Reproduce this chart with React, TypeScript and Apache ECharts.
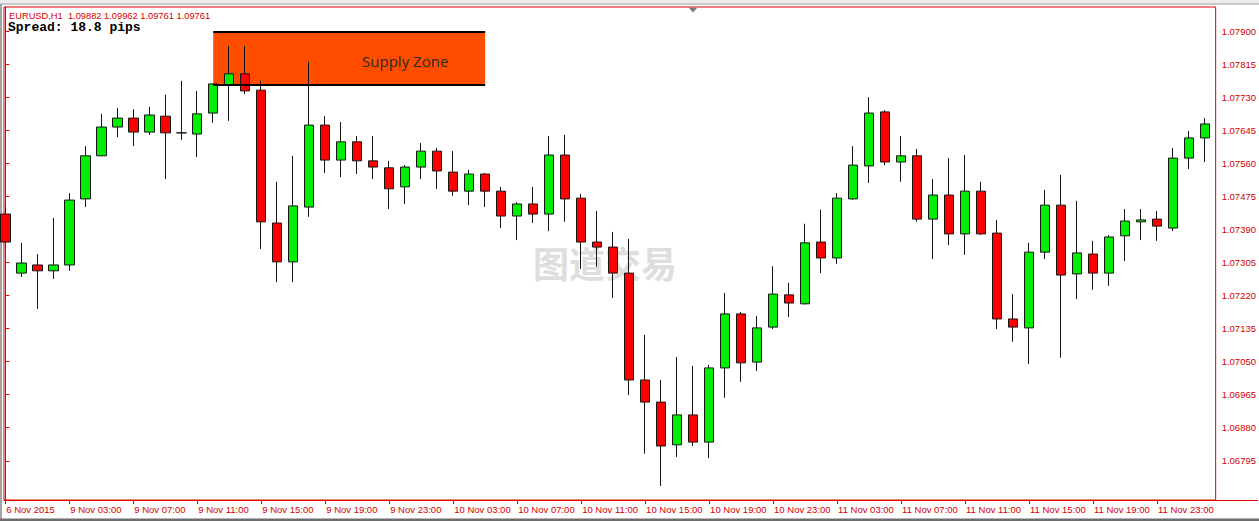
import React, { useEffect, useRef } from "react";
import * as echarts from "echarts";

// ---- data (EURUSD H1) ----
const opens = [
  1.0743, 1.07278, 1.07299, 1.07284, 1.07299, 1.07469, 1.0758, 1.07654, 1.07677, 1.07641,
  1.07682, 1.07639, 1.07636, 1.0769, 1.07762, 1.07791, 1.07749, 1.07407, 1.07307, 1.07448,
  1.07659, 1.07569, 1.07616, 1.07567, 1.07549, 1.075, 1.07551, 1.07592, 1.07538, 1.07489,
  1.07533, 1.07489, 1.07425, 1.07456, 1.0743, 1.07582, 1.07471, 1.07358, 1.07345, 1.07278,
  1.07003, 1.06946, 1.06836, 1.06913, 1.06843, 1.07034, 1.07173, 1.07049, 1.07139, 1.07222,
  1.07199, 1.07358, 1.07317, 1.07469, 1.07554, 1.07693, 1.07564, 1.0758, 1.07417, 1.07479,
  1.07379, 1.07489, 1.07381, 1.0716, 1.07137, 1.07332, 1.07453, 1.07276, 1.07327, 1.07278,
  1.07374, 1.0741, 1.07417, 1.07394, 1.07574, 1.07626,
];
const closes = [
  1.07358, 1.07304, 1.07284, 1.07299, 1.07466, 1.0758, 1.07654, 1.07677, 1.07641, 1.07685,
  1.07639, 1.07639, 1.07688, 1.07765, 1.07791, 1.07747, 1.0741, 1.07307, 1.07451, 1.07659,
  1.07569, 1.07616, 1.07567, 1.07551, 1.07495, 1.07551, 1.07592, 1.07541, 1.07489, 1.07533,
  1.07489, 1.07425, 1.07456, 1.0743, 1.07582, 1.07469, 1.07358, 1.07345, 1.07278, 1.07003,
  1.06946, 1.06833, 1.06913, 1.06843, 1.07034, 1.07173, 1.07047, 1.07137, 1.07224, 1.07201,
  1.07356, 1.07317, 1.07471, 1.07556, 1.0769, 1.07564, 1.0758, 1.07417, 1.07479, 1.07379,
  1.07489, 1.07379, 1.0716, 1.07139, 1.07332, 1.07453, 1.07273, 1.0733, 1.07278, 1.07371,
  1.07412, 1.07415, 1.07399, 1.07574, 1.07626, 1.07662,
];
const highs = [
  1.07448, 1.07356, 1.07327, 1.0742, 1.07484, 1.07605, 1.07688, 1.07703, 1.077, 1.07706,
  1.07737, 1.07773, 1.07747, 1.07766, 1.07863, 1.07863, 1.07773, 1.07513, 1.0758, 1.07822,
  1.07682, 1.07667, 1.07631, 1.07631, 1.07567, 1.07556, 1.07613, 1.076, 1.07592, 1.07544,
  1.07536, 1.075, 1.07461, 1.075, 1.07631, 1.07634, 1.07482, 1.07438, 1.07384, 1.07366,
  1.07119, 1.07003, 1.07062, 1.07039, 1.07042, 1.07227, 1.07178, 1.07168, 1.07296, 1.07253,
  1.07405, 1.07441, 1.07484, 1.07605, 1.07731, 1.07698, 1.07631, 1.07598, 1.0752, 1.07574,
  1.07582, 1.07513, 1.07415, 1.07224, 1.07356, 1.07492, 1.07531, 1.07464, 1.07361, 1.07376,
  1.07443, 1.07443, 1.07438, 1.076, 1.07644, 1.07677,
];
const lows = [
  1.07356, 1.07268, 1.07186, 1.07263, 1.07284, 1.07448, 1.07579, 1.07628, 1.07605, 1.07634,
  1.0752, 1.07621, 1.07577, 1.07665, 1.0767, 1.07739, 1.0734, 1.07255, 1.07255, 1.07423,
  1.07536, 1.07525, 1.07533, 1.0752, 1.07443, 1.07456, 1.0752, 1.07495, 1.07477, 1.07453,
  1.07448, 1.07394, 1.07363, 1.07407, 1.07386, 1.0741, 1.07289, 1.07294, 1.07214, 1.06964,
  1.06813, 1.0673, 1.06805, 1.06833, 1.06802, 1.06957, 1.06998, 1.07026, 1.07134, 1.07165,
  1.07197, 1.07278, 1.07302, 1.07467, 1.0751, 1.07556, 1.07513, 1.0741, 1.07314, 1.0735,
  1.07325, 1.07376, 1.07134, 1.07101, 1.07044, 1.07314, 1.0706, 1.07211, 1.07235, 1.07245,
  1.07309, 1.07363, 1.07361, 1.07386, 1.07546, 1.07564,
];

const xTickIndex = [0, 4, 8, 12, 16, 20, 24, 28, 32, 36, 40, 44, 48, 52, 56, 60, 64, 68, 72];
const xTickLabels = [
  "6 Nov 2015", "9 Nov 03:00", "9 Nov 07:00", "9 Nov 11:00", "9 Nov 15:00", "9 Nov 19:00",
  "9 Nov 23:00", "10 Nov 03:00", "10 Nov 07:00", "10 Nov 11:00", "10 Nov 15:00", "10 Nov 19:00",
  "10 Nov 23:00", "11 Nov 03:00", "11 Nov 07:00", "11 Nov 11:00", "11 Nov 15:00", "11 Nov 19:00",
  "11 Nov 23:00",
];
const yTicks = [
  1.06795, 1.0688, 1.06965, 1.0705, 1.07135, 1.0722, 1.07305, 1.0739, 1.07475, 1.0756,
  1.07645, 1.0773, 1.07815, 1.079,
];
const yMin = 1.06694;
const yMax = 1.07963;

const zoneStart = 13;
const zoneEnd = 30;
const zoneTop = 1.079;
const zoneBottom = 1.07763;

const headerText = "EURUSD,H1  1.09882 1.09962 1.09761 1.09761";
const spreadText = "Spread: 18.8 pips";
const zoneText = "Supply Zone";
const watermark = "图道交易";

const RED = "#e00000";
const LABEL_RED = "#d40000";
const FONT = "Liberation Sans";

export default function App() {
  const ref = useRef<HTMLDivElement>(null);
  useEffect(() => {
    document.body.style.margin = "0";
    const chart = echarts.init(ref.current!, null, { renderer: "svg" });
    const data = opens.map((o, i) => [i, o, closes[i], lows[i], highs[i]]);
    chart.setOption({
      animation: false,
      backgroundColor: "#ffffff",
      grid: {
        left: 4,
        right: 43,
        top: 7,
        bottom: 21,
        show: true,
        borderColor: RED,
        borderWidth: 1,
        backgroundColor: "#ffffff",
      },
      xAxis: {
        type: "value",
        min: -0.08125,
        max: 75.66875,
        axisLine: { show: true, onZero: false, lineStyle: { color: RED, width: 1 } },
        axisTick: { show: true, length: 4, customValues: xTickIndex, lineStyle: { color: RED } },
        axisLabel: {
          customValues: xTickIndex,
          formatter: (v: number) => xTickLabels[xTickIndex.indexOf(Math.round(v))] ?? "",
          color: LABEL_RED,
          fontFamily: FONT,
          fontSize: 9.5,
          align: "left",
          margin: 4,
          padding: [0, 0, 0, 1],
        },
        splitLine: { show: false },
      },
      yAxis: {
        type: "value",
        position: "right",
        min: yMin,
        max: yMax,
        axisLine: { show: true, lineStyle: { color: RED, width: 1 } },
        axisTick: { show: true, length: 4, customValues: yTicks, lineStyle: { color: RED } },
        axisLabel: {
          customValues: yTicks,
          formatter: (v: number) => v.toFixed(5),
          color: LABEL_RED,
          fontFamily: FONT,
          fontSize: 9.5,
          margin: 6,
        },
        splitLine: { show: false },
      },
      series: [
        {
          type: "candlestick",
          data,
          encode: { x: 0, y: [1, 2, 3, 4] },
          barWidth: 10,
          z: 3,
          itemStyle: {
            color: "#00f000",
            color0: "#ff0000",
            borderColor: "#151515",
            borderColor0: "#151515",
            borderWidth: 1,
          },
          markArea: {
            silent: true,
            itemStyle: { color: "#ff4d00", opacity: 1 },
            label: {
              show: true,
              position: "inside",
              offset: [56, 3],
              color: "#2a2a2a",
              fontFamily: "Open Sans",
              fontSize: 15,
            },
            data: [[{ name: zoneText, coord: [zoneStart, zoneTop] }, { coord: [zoneEnd, zoneBottom] }]],
          },
          markLine: {
            silent: true,
            symbol: ["none", "none"],
            label: { show: false },
            lineStyle: { color: "#000000", width: 2, type: "solid" },
            data: [
              [{ coord: [zoneStart, zoneTop] }, { coord: [zoneEnd, zoneTop] }],
              [{ coord: [zoneStart, zoneBottom] }, { coord: [zoneEnd, zoneBottom] }],
            ],
          },
        },
      ],
      graphic: [
        { type: "rect", z: 0, shape: { x: 0, y: 0, width: 1259, height: 3.5 }, style: { fill: "#ececec" } },
        { type: "line", z: 0, shape: { x1: 0, y1: 4, x2: 1259, y2: 4 }, style: { stroke: "#9a9a9a", lineWidth: 1 } },
        { type: "rect", z: 0, shape: { x: 0, y: 4, width: 2, height: 516 }, style: { fill: "#a4a4a4" } },
        { type: "rect", z: 0, shape: { x: 0, y: 518.5, width: 1259, height: 2.5 }, style: { fill: "#6e6e6e" } },
        { type: "line", z: 0, shape: { x1: 1216, y1: 500.5, x2: 1258, y2: 500.5 }, style: { stroke: RED, lineWidth: 1 } },
        { type: "polygon", z: 10, shape: { points: [[688.5, 7.5], [697.5, 7.5], [693, 12.5]] }, style: { fill: "#7a7a7a" } },
        {
          type: "text",
          z: 1,
          style: {
            text: watermark,
            x: 605,
            y: 262,
            align: "center",
            verticalAlign: "middle",
            font: 'bold 36px "Noto Sans CJK SC"',
            fill: "#dedede",
          },
        },
        {
          type: "text",
          z: 10,
          style: {
            text: headerText,
            x: 9,
            y: 15.5,
            verticalAlign: "middle",
            font: '9.3px "Liberation Sans"',
            fill: LABEL_RED,
          },
        },
        {
          type: "text",
          z: 10,
          style: {
            text: spreadText,
            x: 8,
            y: 27.5,
            verticalAlign: "middle",
            font: 'bold 13px "Liberation Mono"',
            fill: "#000000",
          },
        },
      ],
    });
    return () => chart.dispose();
  }, []);
  return <div ref={ref} style={{ width: 1259, height: 521, background: "#ffffff" }} />;
}
